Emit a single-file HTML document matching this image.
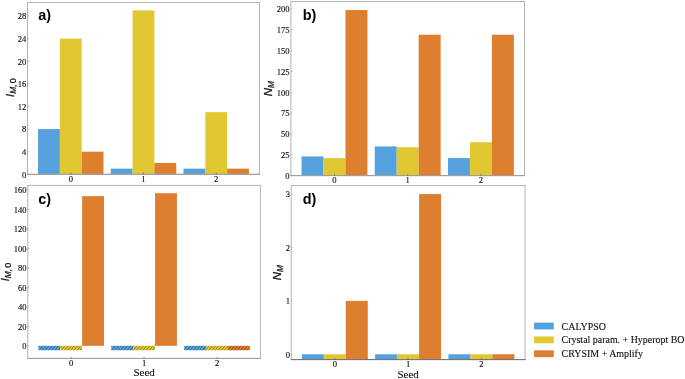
<!DOCTYPE html>
<html><head><meta charset="utf-8"><title>Figure</title>
<style>
html,body{margin:0;padding:0;background:#fff;}
body{width:685px;height:379px;overflow:hidden;}
svg{display:block;}
.t{font-family:"Liberation Serif","Times New Roman",serif;font-size:9.2px;fill:#111;stroke:#111;stroke-width:0.15px;}
.lab{font-family:"Liberation Sans",Arial,sans-serif;font-weight:bold;font-size:14.4px;fill:#000;}
.yl{font-family:"Liberation Sans",Arial,sans-serif;font-style:italic;font-size:11.4px;fill:#111;stroke:#111;stroke-width:0.25px;}
.xl{font-family:"Liberation Serif","Times New Roman",serif;font-size:11px;fill:#111;stroke:#111;stroke-width:0.12px;}
.lg{font-family:"Liberation Serif","Times New Roman",serif;font-size:9.95px;fill:#111;stroke:#111;stroke-width:0.12px;}
</style></head><body>
<svg width="685" height="379" viewBox="0 0 685 379">
<rect width="685" height="379" fill="#fff"/>
<g>
<rect x="38.05" y="129.07" width="21.82" height="45.23" fill="#55a1dd"/>
<rect x="59.86" y="38.62" width="21.82" height="135.68" fill="#e1c833"/>
<rect x="81.68" y="151.69" width="21.82" height="22.61" fill="#de7e2f"/>
<rect x="110.77" y="168.65" width="21.82" height="5.65" fill="#55a1dd"/>
<rect x="132.59" y="10.36" width="21.82" height="163.94" fill="#e1c833"/>
<rect x="154.41" y="162.99" width="21.82" height="11.31" fill="#de7e2f"/>
<rect x="183.50" y="168.65" width="21.82" height="5.65" fill="#55a1dd"/>
<rect x="205.32" y="112.12" width="21.82" height="62.18" fill="#e1c833"/>
<rect x="227.14" y="168.65" width="21.82" height="5.65" fill="#de7e2f"/>
<rect x="27.5" y="2.5" width="232.00" height="171.80" fill="none" stroke="#b4b4b4" stroke-width="1"/>
<line x1="27.0" x2="260.0" y1="174.3" y2="174.3" stroke="#9c9c9c" stroke-width="1"/>
<line x1="27.5" x2="29.1" y1="174.30" y2="174.30" stroke="#777" stroke-width="0.4"/>
<text class="t" transform="translate(26.20,177.65) scale(0.93,1)" text-anchor="end">0</text>
<line x1="27.5" x2="29.1" y1="151.69" y2="151.69" stroke="#777" stroke-width="0.4"/>
<text class="t" transform="translate(26.20,155.04) scale(0.93,1)" text-anchor="end">4</text>
<line x1="27.5" x2="29.1" y1="129.07" y2="129.07" stroke="#777" stroke-width="0.4"/>
<text class="t" transform="translate(26.20,132.42) scale(0.93,1)" text-anchor="end">8</text>
<line x1="27.5" x2="29.1" y1="106.46" y2="106.46" stroke="#777" stroke-width="0.4"/>
<text class="t" transform="translate(26.20,109.81) scale(0.93,1)" text-anchor="end">12</text>
<line x1="27.5" x2="29.1" y1="83.85" y2="83.85" stroke="#777" stroke-width="0.4"/>
<text class="t" transform="translate(26.20,87.20) scale(0.93,1)" text-anchor="end">16</text>
<line x1="27.5" x2="29.1" y1="61.24" y2="61.24" stroke="#777" stroke-width="0.4"/>
<text class="t" transform="translate(26.20,64.59) scale(0.93,1)" text-anchor="end">20</text>
<line x1="27.5" x2="29.1" y1="38.62" y2="38.62" stroke="#777" stroke-width="0.4"/>
<text class="t" transform="translate(26.20,41.97) scale(0.93,1)" text-anchor="end">24</text>
<line x1="27.5" x2="29.1" y1="16.01" y2="16.01" stroke="#777" stroke-width="0.4"/>
<text class="t" transform="translate(26.20,19.36) scale(0.93,1)" text-anchor="end">28</text>
<line x1="70.77" x2="70.77" y1="174.3" y2="172.60000000000002" stroke="#333" stroke-width="0.45"/>
<text class="t" transform="translate(70.77,181.90) scale(0.93,1)" text-anchor="middle">0</text>
<line x1="143.50" x2="143.50" y1="174.3" y2="172.60000000000002" stroke="#333" stroke-width="0.45"/>
<text class="t" transform="translate(143.50,181.90) scale(0.93,1)" text-anchor="middle">1</text>
<line x1="216.23" x2="216.23" y1="174.3" y2="172.60000000000002" stroke="#333" stroke-width="0.45"/>
<text class="t" transform="translate(216.23,181.90) scale(0.93,1)" text-anchor="middle">2</text>
<text class="lab" x="38.3" y="19.8">a)</text>
<text class="yl" transform="translate(13.6,87.6) rotate(-90)" text-anchor="middle">I<tspan font-size="8.4" dy="2">M,</tspan><tspan font-size="9" font-style="normal" dx="1.1">0</tspan></text>
</g>
<g>
<rect x="301.52" y="156.42" width="21.97" height="19.18" fill="#55a1dd"/>
<rect x="323.49" y="158.09" width="21.97" height="17.51" fill="#e1c833"/>
<rect x="345.46" y="10.09" width="21.97" height="165.51" fill="#de7e2f"/>
<rect x="374.75" y="146.42" width="21.97" height="29.18" fill="#55a1dd"/>
<rect x="396.72" y="147.25" width="21.97" height="28.35" fill="#e1c833"/>
<rect x="418.68" y="34.69" width="21.97" height="140.91" fill="#de7e2f"/>
<rect x="447.98" y="158.09" width="21.97" height="17.51" fill="#55a1dd"/>
<rect x="469.94" y="142.25" width="21.97" height="33.35" fill="#e1c833"/>
<rect x="491.91" y="34.69" width="21.97" height="140.91" fill="#de7e2f"/>
<rect x="290.9" y="1.5" width="233.60" height="174.10" fill="none" stroke="#b4b4b4" stroke-width="1"/>
<line x1="290.4" x2="525.0" y1="175.6" y2="175.6" stroke="#9c9c9c" stroke-width="1"/>
<line x1="290.9" x2="292.5" y1="175.60" y2="175.60" stroke="#777" stroke-width="0.4"/>
<text class="t" transform="translate(289.60,178.95) scale(0.93,1)" text-anchor="end">0</text>
<line x1="290.9" x2="292.5" y1="154.75" y2="154.75" stroke="#777" stroke-width="0.4"/>
<text class="t" transform="translate(289.60,158.10) scale(0.93,1)" text-anchor="end">25</text>
<line x1="290.9" x2="292.5" y1="133.91" y2="133.91" stroke="#777" stroke-width="0.4"/>
<text class="t" transform="translate(289.60,137.26) scale(0.93,1)" text-anchor="end">50</text>
<line x1="290.9" x2="292.5" y1="113.06" y2="113.06" stroke="#777" stroke-width="0.4"/>
<text class="t" transform="translate(289.60,116.41) scale(0.93,1)" text-anchor="end">75</text>
<line x1="290.9" x2="292.5" y1="92.22" y2="92.22" stroke="#777" stroke-width="0.4"/>
<text class="t" transform="translate(289.60,95.57) scale(0.93,1)" text-anchor="end">100</text>
<line x1="290.9" x2="292.5" y1="71.37" y2="71.37" stroke="#777" stroke-width="0.4"/>
<text class="t" transform="translate(289.60,74.72) scale(0.93,1)" text-anchor="end">125</text>
<line x1="290.9" x2="292.5" y1="50.53" y2="50.53" stroke="#777" stroke-width="0.4"/>
<text class="t" transform="translate(289.60,53.88) scale(0.93,1)" text-anchor="end">150</text>
<line x1="290.9" x2="292.5" y1="29.68" y2="29.68" stroke="#777" stroke-width="0.4"/>
<text class="t" transform="translate(289.60,33.03) scale(0.93,1)" text-anchor="end">175</text>
<line x1="290.9" x2="292.5" y1="8.84" y2="8.84" stroke="#777" stroke-width="0.4"/>
<text class="t" transform="translate(289.60,12.19) scale(0.93,1)" text-anchor="end">200</text>
<line x1="334.47" x2="334.47" y1="175.6" y2="173.9" stroke="#333" stroke-width="0.45"/>
<text class="t" transform="translate(334.47,183.20) scale(0.93,1)" text-anchor="middle">0</text>
<line x1="407.70" x2="407.70" y1="175.6" y2="173.9" stroke="#333" stroke-width="0.45"/>
<text class="t" transform="translate(407.70,183.20) scale(0.93,1)" text-anchor="middle">1</text>
<line x1="480.93" x2="480.93" y1="175.6" y2="173.9" stroke="#333" stroke-width="0.45"/>
<text class="t" transform="translate(480.93,183.20) scale(0.93,1)" text-anchor="middle">2</text>
<text class="lab" x="302.8" y="19.5">b)</text>
<text class="yl" transform="translate(272.3,88.6) rotate(-90)" text-anchor="middle">N<tspan font-size="8.4" dy="2">M</tspan></text>
</g>
<g>
<rect x="38.37" y="345.84" width="21.87" height="4.38" fill="#55a1dd"/>
<path d="M38.37,347.57L39.76,345.84M39.39,350.22L42.90,345.84M42.53,350.22L46.04,345.84M45.67,350.22L49.18,345.84M48.81,350.22L52.32,345.84M51.95,350.22L55.46,345.84M55.09,350.22L58.60,345.84M58.23,350.22L60.25,347.70" stroke="#000" stroke-width="0.36" fill="none" stroke-linecap="butt"/>
<rect x="60.25" y="345.84" width="21.87" height="4.38" fill="#e1c833"/>
<path d="M60.25,347.70L61.74,345.84M61.37,350.22L64.88,345.84M64.51,350.22L68.02,345.84M67.65,350.22L71.16,345.84M70.79,350.22L74.30,345.84M73.93,350.22L77.44,345.84M77.07,350.22L80.58,345.84M80.21,350.22L82.12,347.83" stroke="#000" stroke-width="0.36" fill="none" stroke-linecap="butt"/>
<rect x="82.12" y="196.12" width="21.87" height="149.72" fill="#de7e2f"/>
<rect x="111.29" y="345.84" width="21.87" height="4.38" fill="#55a1dd"/>
<path d="M111.29,346.70L111.98,345.84M111.61,350.22L115.12,345.84M114.75,350.22L118.26,345.84M117.89,350.22L121.40,345.84M121.03,350.22L124.54,345.84M124.17,350.22L127.68,345.84M127.31,350.22L130.82,345.84M130.45,350.22L133.16,346.83" stroke="#000" stroke-width="0.36" fill="none" stroke-linecap="butt"/>
<rect x="133.16" y="345.84" width="21.87" height="4.38" fill="#e1c833"/>
<path d="M133.16,346.83L133.96,345.84M133.59,350.22L137.10,345.84M136.73,350.22L140.24,345.84M139.87,350.22L143.38,345.84M143.01,350.22L146.52,345.84M146.15,350.22L149.66,345.84M149.29,350.22L152.80,345.84M152.43,350.22L155.04,346.96" stroke="#000" stroke-width="0.36" fill="none" stroke-linecap="butt"/>
<rect x="155.04" y="193.19" width="21.87" height="152.64" fill="#de7e2f"/>
<rect x="184.20" y="345.84" width="21.87" height="4.38" fill="#55a1dd"/>
<path d="M184.20,349.76L187.34,345.84M186.97,350.22L190.48,345.84M190.11,350.22L193.62,345.84M193.25,350.22L196.76,345.84M196.39,350.22L199.90,345.84M199.53,350.22L203.04,345.84M202.67,350.22L206.08,345.96M205.81,350.22L206.08,349.89" stroke="#000" stroke-width="0.36" fill="none" stroke-linecap="butt"/>
<rect x="206.08" y="345.84" width="21.87" height="4.38" fill="#e1c833"/>
<path d="M206.08,345.96L206.18,345.84M206.08,349.89L209.32,345.84M208.95,350.22L212.46,345.84M212.09,350.22L215.60,345.84M215.23,350.22L218.74,345.84M218.37,350.22L221.88,345.84M221.51,350.22L225.02,345.84M224.65,350.22L227.95,346.09M227.79,350.22L227.95,350.02" stroke="#000" stroke-width="0.36" fill="none" stroke-linecap="butt"/>
<rect x="227.95" y="345.84" width="21.87" height="4.38" fill="#de7e2f"/>
<path d="M227.95,346.09L228.16,345.84M227.95,350.02L231.30,345.84M230.93,350.22L234.44,345.84M234.07,350.22L237.58,345.84M237.21,350.22L240.72,345.84M240.35,350.22L243.86,345.84M243.49,350.22L247.00,345.84M246.63,350.22L249.83,346.23M249.77,350.22L249.83,350.15" stroke="#000" stroke-width="0.36" fill="none" stroke-linecap="butt"/>
<rect x="27.8" y="185.4" width="232.60" height="173.05" fill="none" stroke="#b4b4b4" stroke-width="1"/>
<line x1="27.3" x2="260.9" y1="358.45" y2="358.45" stroke="#9c9c9c" stroke-width="1"/>
<line x1="27.8" x2="29.400000000000002" y1="345.84" y2="345.84" stroke="#777" stroke-width="0.4"/>
<text class="t" transform="translate(26.50,349.19) scale(0.93,1)" text-anchor="end">0</text>
<line x1="27.8" x2="29.400000000000002" y1="326.35" y2="326.35" stroke="#777" stroke-width="0.4"/>
<text class="t" transform="translate(26.50,329.70) scale(0.93,1)" text-anchor="end">20</text>
<line x1="27.8" x2="29.400000000000002" y1="306.87" y2="306.87" stroke="#777" stroke-width="0.4"/>
<text class="t" transform="translate(26.50,310.22) scale(0.93,1)" text-anchor="end">40</text>
<line x1="27.8" x2="29.400000000000002" y1="287.39" y2="287.39" stroke="#777" stroke-width="0.4"/>
<text class="t" transform="translate(26.50,290.74) scale(0.93,1)" text-anchor="end">60</text>
<line x1="27.8" x2="29.400000000000002" y1="267.91" y2="267.91" stroke="#777" stroke-width="0.4"/>
<text class="t" transform="translate(26.50,271.26) scale(0.93,1)" text-anchor="end">80</text>
<line x1="27.8" x2="29.400000000000002" y1="248.42" y2="248.42" stroke="#777" stroke-width="0.4"/>
<text class="t" transform="translate(26.50,251.77) scale(0.93,1)" text-anchor="end">100</text>
<line x1="27.8" x2="29.400000000000002" y1="228.94" y2="228.94" stroke="#777" stroke-width="0.4"/>
<text class="t" transform="translate(26.50,232.29) scale(0.93,1)" text-anchor="end">120</text>
<line x1="27.8" x2="29.400000000000002" y1="209.46" y2="209.46" stroke="#777" stroke-width="0.4"/>
<text class="t" transform="translate(26.50,212.81) scale(0.93,1)" text-anchor="end">140</text>
<line x1="27.8" x2="29.400000000000002" y1="189.98" y2="189.98" stroke="#777" stroke-width="0.4"/>
<text class="t" transform="translate(26.50,193.33) scale(0.93,1)" text-anchor="end">160</text>
<line x1="71.18" x2="71.18" y1="358.45" y2="356.75" stroke="#333" stroke-width="0.45"/>
<text class="t" transform="translate(71.18,366.05) scale(0.93,1)" text-anchor="middle">0</text>
<line x1="144.10" x2="144.10" y1="358.45" y2="356.75" stroke="#333" stroke-width="0.45"/>
<text class="t" transform="translate(144.10,366.05) scale(0.93,1)" text-anchor="middle">1</text>
<line x1="217.02" x2="217.02" y1="358.45" y2="356.75" stroke="#333" stroke-width="0.45"/>
<text class="t" transform="translate(217.02,366.05) scale(0.93,1)" text-anchor="middle">2</text>
<text class="lab" x="38.3" y="203.5">c)</text>
<text class="xl" x="144.10" y="376.45" text-anchor="middle">Seed</text>
<text class="yl" transform="translate(9.0,272.0) rotate(-90)" text-anchor="middle">I<tspan font-size="8.4" dy="2">M,</tspan><tspan font-size="9" font-style="normal" dx="1.1">0</tspan></text>
</g>
<g>
<rect x="301.83" y="354.26" width="21.99" height="5.34" fill="#55a1dd"/>
<rect x="323.81" y="354.26" width="21.99" height="5.34" fill="#e1c833"/>
<rect x="345.80" y="300.87" width="21.99" height="58.73" fill="#de7e2f"/>
<rect x="375.12" y="354.26" width="21.99" height="5.34" fill="#55a1dd"/>
<rect x="397.11" y="354.26" width="21.99" height="5.34" fill="#e1c833"/>
<rect x="419.09" y="194.09" width="21.99" height="165.51" fill="#de7e2f"/>
<rect x="448.41" y="354.26" width="21.99" height="5.34" fill="#55a1dd"/>
<rect x="470.40" y="354.26" width="21.99" height="5.34" fill="#e1c833"/>
<rect x="492.39" y="354.26" width="21.99" height="5.34" fill="#de7e2f"/>
<rect x="291.2" y="185.55" width="233.80" height="174.05" fill="none" stroke="#b4b4b4" stroke-width="1"/>
<line x1="290.7" x2="525.5" y1="359.6" y2="359.6" stroke="#707070" stroke-width="1"/>
<line x1="291.2" x2="292.8" y1="354.26" y2="354.26" stroke="#777" stroke-width="0.4"/>
<text class="t" transform="translate(289.90,357.61) scale(0.93,1)" text-anchor="end">0</text>
<line x1="291.2" x2="292.8" y1="300.87" y2="300.87" stroke="#777" stroke-width="0.4"/>
<text class="t" transform="translate(289.90,304.22) scale(0.93,1)" text-anchor="end">1</text>
<line x1="291.2" x2="292.8" y1="247.48" y2="247.48" stroke="#777" stroke-width="0.4"/>
<text class="t" transform="translate(289.90,250.83) scale(0.93,1)" text-anchor="end">2</text>
<line x1="291.2" x2="292.8" y1="194.09" y2="194.09" stroke="#777" stroke-width="0.4"/>
<text class="t" transform="translate(289.90,197.44) scale(0.93,1)" text-anchor="end">3</text>
<line x1="334.81" x2="334.81" y1="359.6" y2="357.90000000000003" stroke="#333" stroke-width="0.45"/>
<text class="t" transform="translate(334.81,367.20) scale(0.93,1)" text-anchor="middle">0</text>
<line x1="408.10" x2="408.10" y1="359.6" y2="357.90000000000003" stroke="#333" stroke-width="0.45"/>
<text class="t" transform="translate(408.10,367.20) scale(0.93,1)" text-anchor="middle">1</text>
<line x1="481.39" x2="481.39" y1="359.6" y2="357.90000000000003" stroke="#333" stroke-width="0.45"/>
<text class="t" transform="translate(481.39,367.20) scale(0.93,1)" text-anchor="middle">2</text>
<text class="lab" x="302.8" y="203.5">d)</text>
<text class="xl" x="408.10" y="377.60" text-anchor="middle">Seed</text>
<text class="yl" transform="translate(280.8,272.6) rotate(-90)" text-anchor="middle">N<tspan font-size="8.4" dy="2">M</tspan></text>
</g>
<rect x="534.1" y="322.60" width="19.7" height="6.8" fill="#55a1dd"/>
<text class="lg" x="561.6" y="329.60">CALYPSO</text>
<rect x="534.1" y="336.47" width="19.7" height="6.8" fill="#e1c833"/>
<text class="lg" x="561.6" y="343.47">Crystal param. + Hyperopt BO</text>
<rect x="534.1" y="350.34" width="19.7" height="6.8" fill="#de7e2f"/>
<text class="lg" x="561.6" y="357.34">CRYSIM + Amplify</text>
</svg></body></html>
